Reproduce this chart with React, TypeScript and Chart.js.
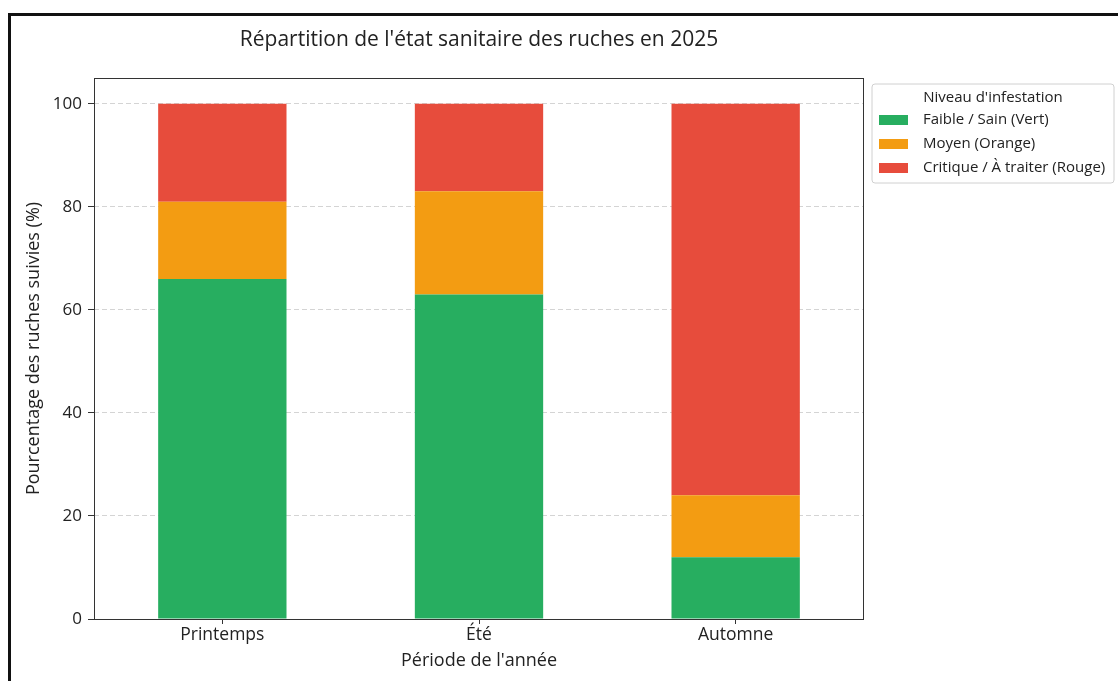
import React, { useEffect, useRef } from "react";
import { Chart, registerables } from "chart.js";

Chart.register(...registerables);

const categories = ["Printemps", "Été", "Automne"];
const faibleValues = [66, 63, 12];
const moyenValues = [15, 20, 12];
const critiqueValues = [19, 17, 76];
const seriesLabels = ["Faible / Sain (Vert)", "Moyen (Orange)", "Critique / À traiter (Rouge)"];
const seriesColors = ["#27ae60", "#f39c12", "#e74c3c"];
const yTickValues = [0, 20, 40, 60, 80, 100];

const chartTitle = "Répartition de l'état sanitaire des ruches en 2025";
const xTitle = "Période de l'année";
const yTitle = "Pourcentage des ruches suivies (%)";
const legendTitle = "Niveau d'infestation";

const FONT = "'Open Sans'";

const frameAndTitlePlugin = {
  id: "frameAndTitle",
  afterDatasetsDraw(chart: any) {
    const { ctx, chartArea } = chart;
    ctx.save();
    ctx.strokeStyle = "#333333";
    ctx.lineWidth = 1;
    ctx.strokeRect(
      Math.round(chartArea.left) + 0.5,
      Math.round(chartArea.top) + 0.5,
      Math.round(chartArea.right - chartArea.left) - 1,
      Math.round(chartArea.bottom - chartArea.top)
    );
    ctx.restore();
  },
  afterDraw(chart: any) {
    const { ctx, chartArea } = chart;
    ctx.save();
    // title
    ctx.fillStyle = "#222222";
    ctx.font = `21px ${FONT}`;
    ctx.textAlign = "center";
    ctx.textBaseline = "middle";
    ctx.fillText(chartTitle, (chartArea.left + chartArea.right) / 2, 40);

    // legend
    const bx = chartArea.right + 8;
    const by = chartArea.top + 6;
    const bw = 242;
    const bh = 99;
    ctx.beginPath();
    const r = 3;
    ctx.moveTo(bx + r, by);
    ctx.lineTo(bx + bw - r, by);
    ctx.quadraticCurveTo(bx + bw, by, bx + bw, by + r);
    ctx.lineTo(bx + bw, by + bh - r);
    ctx.quadraticCurveTo(bx + bw, by + bh, bx + bw - r, by + bh);
    ctx.lineTo(bx + r, by + bh);
    ctx.quadraticCurveTo(bx, by + bh, bx, by + bh - r);
    ctx.lineTo(bx, by + r);
    ctx.quadraticCurveTo(bx, by, bx + r, by);
    ctx.closePath();
    ctx.fillStyle = "rgba(255,255,255,0.85)";
    ctx.fill();
    ctx.strokeStyle = "#d0d0d0";
    ctx.lineWidth = 1;
    ctx.stroke();

    ctx.fillStyle = "#222222";
    ctx.font = `15px ${FONT}`;
    ctx.textAlign = "center";
    ctx.fillText(legendTitle, bx + 121, by + 14);

    ctx.textAlign = "left";
    chart.data.datasets.forEach((ds: any, i: number) => {
      const cy = by + 36 + i * 24;
      ctx.fillStyle = ds.backgroundColor;
      ctx.fillRect(bx + 7, cy - 5, 29, 10);
      ctx.fillStyle = "#222222";
      ctx.fillText(ds.label, bx + 51, cy);
    });
    ctx.restore();
  },
};

export default function App() {
  const canvasRef = useRef<HTMLCanvasElement | null>(null);

  useEffect(() => {
    if (!canvasRef.current) return;
    Chart.defaults.font.family = FONT;
    const valueSets = [faibleValues, moyenValues, critiqueValues];
    const chart = new Chart(canvasRef.current, {
      type: "bar",
      data: {
        labels: categories,
        datasets: valueSets.map((vals, i) => ({
          label: seriesLabels[i],
          data: vals,
          backgroundColor: seriesColors[i],
          borderWidth: 0,
          barPercentage: 0.5,
          categoryPercentage: 1,
        })),
      },
      options: {
        animation: false,
        responsive: false,
        devicePixelRatio: 1,
        layout: { padding: { left: 0, right: 254, top: 78, bottom: 0 } },
        plugins: {
          legend: { display: false },
          title: { display: false },
          tooltip: { enabled: false },
        },
        scales: {
          x: {
            stacked: true,
            offset: true,
            afterFit(scale: any) {
              scale.height = 62;
            },
            grid: {
              display: true,
              drawOnChartArea: false,
              offset: false,
              tickLength: 5,
              tickColor: "#333333",
              tickWidth: 1,
            },
            border: { display: false },
            ticks: { color: "#222222", font: { size: 17.5, family: FONT }, padding: 1 },
            title: {
              display: true,
              text: xTitle,
              color: "#222222",
              font: { size: 18, family: FONT },
              padding: { top: 0, bottom: 9 },
            },
          },
          y: {
            stacked: true,
            min: 0,
            max: 105,
            afterFit(scale: any) {
              scale.width = 94;
            },
            afterBuildTicks(scale: any) {
              scale.ticks = yTickValues.map((v) => ({ value: v }));
            },
            grid: {
              color: "#d4d4d4",
              lineWidth: 1,
              tickBorderDash: [],
              tickLength: 6,
              tickColor: "#333333",
              tickWidth: 1,
            },
            border: { display: false, dash: [5, 3] },
            ticks: { color: "#222222", font: { size: 17, family: FONT }, padding: 6 },
            title: {
              display: true,
              text: yTitle,
              color: "#222222",
              font: { size: 18, family: FONT },
              padding: { top: 23, bottom: 0 },
            },
          },
        },
      },
      plugins: [frameAndTitlePlugin],
    });
    return () => chart.destroy();
  }, []);

  return (
    <>
      <div style={{ position: "fixed", left: 0, top: 0, width: 1118, height: 681, background: "#ffffff" }}>
        <canvas ref={canvasRef} width={1118} height={681} style={{ display: "block" }} />
      </div>
      <div
        style={{
          position: "fixed",
          left: 8,
          top: 13,
          width: 1200,
          height: 800,
          border: "3px solid #111111",
          boxSizing: "border-box",
          pointerEvents: "none",
        }}
      />
    </>
  );
}
